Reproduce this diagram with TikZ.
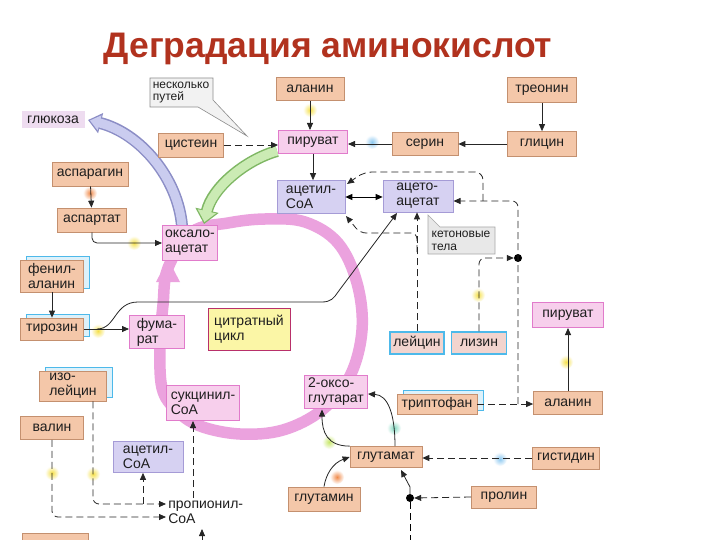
\documentclass[tikz,border=0pt]{standalone}
\usepackage{fontspec}
\setmainfont{Liberation Sans}
\usetikzlibrary{arrows.meta,shadows,backgrounds,calc}
\definecolor{aafill}{HTML}{F4C7A9}
\definecolor{aadraw}{HTML}{C4906F}
\definecolor{pkfill}{HTML}{F7CFEC}
\definecolor{pkdraw}{HTML}{E17BCB}
\definecolor{lvfill}{HTML}{D6D1F2}
\definecolor{lvdraw}{HTML}{A59BD6}
\definecolor{cycfill}{HTML}{FBF6A6}
\definecolor{cycdraw}{HTML}{B8306A}
\definecolor{shfill}{HTML}{DDF1FA}
\definecolor{shdraw}{HTML}{4DB9EA}
\definecolor{lbfill}{HTML}{F2D4CE}
\definecolor{ringcol}{HTML}{EBA2DE}
\definecolor{gfill}{HTML}{CBEBB4}
\definecolor{gdraw}{HTML}{7FB764}
\definecolor{lfill}{HTML}{CACCEF}
\definecolor{ldraw}{HTML}{8C8EC6}
\definecolor{titlecol}{HTML}{B1321E}
\definecolor{txt}{HTML}{1E1E1E}
\definecolor{glcfill}{HTML}{EEDCF0}
\definecolor{callfill}{HTML}{E8E8E8}
\definecolor{calldraw}{HTML}{A8A8A8}
\definecolor{glowY}{HTML}{F5E04A}
\definecolor{glowO}{HTML}{F08A4A}
\definecolor{glowB}{HTML}{8CC8F0}
\definecolor{glowG}{HTML}{C8E86A}
\definecolor{glowT}{HTML}{80D8C0}
\newcommand{\bx}{\fontsize{14}{15}\selectfont}
\newcommand{\smx}{\fontsize{12}{12.5}\selectfont}
\begin{document}
\begin{tikzpicture}[x=1pt,y=-1pt,
  box/.style={inner sep=0pt, align=left, font=\bx, text=txt, line width=0.7pt},
  aa/.style={box, fill=aafill, draw=aadraw},
  pk/.style={box, fill=pkfill, draw=pkdraw, line width=1pt},
  lv/.style={box, fill=lvfill, draw=lvdraw},
  ks/.style={aa, copy shadow={shadow xshift=6pt, shadow yshift=4pt, fill=shfill, draw=shdraw, line width=0.9pt}},
  lb/.style={box, fill=lbfill, draw=shdraw, line width=1.2pt},
  cyc/.style={box, fill=cycfill, draw=cycdraw, line width=1pt},
  sz/.style n args={2}{minimum width=#1pt, minimum height=#2pt},
  dotn/.style={circle, fill=black, inner sep=0pt, minimum size=8pt},
  arr/.style={-{Triangle[length=7pt,width=6pt]}, line width=0.8pt, draw=black!85},
  dsh/.style={arr, dash pattern=on 7pt off 4pt},
  glow/.style={inner color=#1, outer color=white}
]
\path[use as bounding box] (0,0) rectangle (720,540);

% ---------- title
\node[font=\fontsize{35.5}{38}\selectfont\bfseries, text=titlecol, anchor=base] (title) at (328,58) {Деградация аминокислот};

% ---------- nodes
\node[aa, sz={68}{23}] (alaT) at (310,89) {аланин};
\node[aa, sz={69}{25}] (thr) at (542,90) {треонин};
\node[aa, sz={65}{24}] (cys) at (191,145) {цистеин};
\node[pk, sz={69}{23}] (pyrT) at (313,142) {пируват};
\node[aa, sz={66}{23}] (ser) at (425,144) {серин};
\node[aa, sz={69}{25}] (gly) at (542,144) {глицин};
\node[box, fill=glcfill, sz={63}{17}] (glc) at (53,120) {глюкоза};
\node[aa, sz={76}{24}] (asn) at (90,174) {аспарагин};
\node[lv, sz={68}{33}] (acT) at (311,197) {ацетил-\\CoA};
\node[lv, sz={70}{32}] (acac) at (418,196) {ацето-\\ацетат};
\node[aa, sz={69}{24}] (asp) at (92,220) {аспартат};
\node[pk, sz={55}{35}] (oaa) at (190,243) {оксало-\\ацетат};
\node[ks, sz={63}{32}] (phe) at (52,276) {фенил-\\аланин};
\node[ks, sz={63}{22}] (tyr) at (52,329) {тирозин};
\node[pk, sz={55}{33}] (fum) at (157,332) {фума-\\рат};
\node[cyc, sz={82}{42}] (cit) at (249,329) {цитратный\\цикл};
\node[pk, sz={71}{25}] (pyrR) at (568,315) {пируват};
\node[lb, sz={54}{22}] (leu) at (417,343) {лейцин};
\node[lb, sz={55}{22}] (lys) at (479,343) {лизин};
\node[ks, sz={67}{30}] (ile) at (73,386) {изо-\\лейцин};
\node[pk, sz={73}{35}] (suc) at (203,403) {сукцинил-\\CoA};
\node[pk, sz={63}{33}] (oxg) at (336,392) {2-оксо-\\глутарат};
\node[ks, sz={80}{20}] (trp) at (437,404) {триптофан};
\node[aa, sz={69}{23}] (alaR) at (568,403) {аланин};
\node[aa, sz={63}{23}] (val) at (52,428) {валин};
\node[lv, sz={70}{31}] (acB) at (148,457) {ацетил-\\CoA};
\node[aa, sz={72}{21}] (glu) at (386,457) {глутамат};
\node[aa, sz={67}{22}] (his) at (566,458) {гистидин};
\node[aa, sz={72}{24}] (gln) at (324,499) {глутамин};
\node[aa, sz={65}{22}] (pro) at (504,497) {пролин};
\node[box, anchor=west] (prop) at (168,512) {пропионил-\\CoA};
\node[aa, sz={66}{24}] (cut) at (55,545) {};

% callouts
\draw[fill=white!95!black, draw=black!45, line width=0.6pt]
  (150,78) -- (213,78) -- (213,100) -- (247,136) -- (198,107) -- (150,107) -- cycle;
\node[font=\smx, align=left, text=txt] (paths) at (181,92.5) {несколько\\путей};
\draw[fill=callfill, draw=calldraw, line width=0.6pt]
  (428,215) -- (440,227) -- (495,227) -- (495,254) -- (428,254) -- cycle;
\node[font=\smx, align=left, text=txt] (keto) at (461,241) {кетоновые\\тела};

\node[dotn] (dot1) at (518,258) {};
\node[dotn] (dot2) at (410,498) {};

% ---------- background: glows, ring, broad arrows
\begin{scope}[on background layer]
\fill[white] (0,0) rectangle (720,540);
\foreach \x/\y/\c in {310/110/glowY, 372/142/glowB, 90/193/glowO, 134/243/glowY,
   98/331/glowY, 478/295/glowY, 566/362/glowY, 52/473/glowY, 93/474/glowY,
   337/477/glowO, 329/442/glowG, 394/428/glowT, 500/459/glowB}
  \shade[glow=\c] (\x,\y) circle[radius=7];
\draw[ringcol, line width=11.5pt] plot[smooth cycle, tension=0.6] coordinates {
  (192,232) (228,223) (265,219) (305,222) (338,243) (357,283) (362,330)
  (350,376) (322,410) (283,430) (240,434) (200,426) (176,410) (162,388)
  (160,345) (163,305) (168,268)};
\fill[ringcol] (156,282) -- (180,282) -- (168,259) -- cycle;
% green arrow pyruvate -> oxaloacetate
\draw[gdraw, line width=12pt, -{Triangle[width=23pt,length=14pt]}]
  (277,151) .. controls (245,160) and (212,188) .. (204,224);
\draw[gfill, line width=9pt, shorten >=2pt, -{Triangle[width=18pt,length=11pt]}]
  (277,151) .. controls (245,160) and (212,188) .. (204,224);
% lavender arrow oxaloacetate -> glucose
\draw[ldraw, line width=12pt, -{Triangle[width=20pt,length=13pt]}]
  (182,226) .. controls (178,178) and (140,133) .. (88,120);
\draw[lfill, line width=9pt, shorten >=2pt, -{Triangle[width=15pt,length=10pt]}]
  (182,226) .. controls (178,178) and (140,133) .. (88,120);
\end{scope}

% ---------- coordinates for free ends
\coordinate (tyrJ) at (97,329);
\coordinate (acacIn) at (397,213);
\coordinate (leuJ) at (417,252);
\coordinate (acTse) at (346,216);
\coordinate (acTne) at (347,184);
\coordinate (trpJ) at (518,404);
\coordinate (acacE) at (453.5,201);
\coordinate (loopJ) at (483,201);
\coordinate (gluIn) at (401,470);
\coordinate (bot2) at (410,545);
\coordinate (oxgB) at (322,409.5);
\coordinate (oxgR) at (368,394);
\coordinate (propA) at (166,504);
\coordinate (propB) at (166,517);
\coordinate (ileJ) at (143,504);
\coordinate (propT) at (193,498);
\coordinate (botP) at (202,548);
\coordinate (propBot) at (202,529);

% ---------- connectors
\draw[arr] (alaT.south) -- (alaT.south |- pyrT.north);
\draw[dsh] (cys.east) -- (cys.east -| pyrT.west);
\draw[arr] (ser.west) -- (ser.west -| pyrT.east);
\draw[arr] (gly.west) -- (gly.west -| ser.east);
\draw[arr] (thr.south) -- (gly.north);
\draw[arr] (pyrT.south) -- (pyrT.south |- acT.north);
\draw[{Triangle[length=7pt,width=6pt]}-{Triangle[length=7pt,width=6pt]}, line width=0.8pt]
  (acT.east) -- (acT.east -| acac.west);
\draw[arr] (asn) -- (asp);
\draw[arr, rounded corners=5pt] (asp.south) |- (oaa.west);
\draw[arr] (phe) -- (tyr);
\draw[arr] (tyr.east) -- (tyr.east -| fum.west);
\draw[arr] (tyrJ) .. controls (116,329) and (114,302) .. (138,302) -- (322,302)
  .. controls (331,302) and (334,298) .. (338,292) -- (acacIn);
% ketogenic dashed paths
\draw[dsh] (leu.north) -- (leu.north |- acac.south);
\draw[dsh, rounded corners=6pt] (leuJ) |- (360,233) -- (acTse);
\draw[dsh, rounded corners=6pt] (lys.north) |- (dot1.west);
\draw[dsh, rounded corners=6pt] (trpJ) |- (acacE);
\draw[dsh, rounded corners=8pt] (loopJ) -- (483,172) -- (364,172) -- (acTne);
\draw[dsh] (trp.east) -- (trp.east -| alaR.west);
\draw[arr] (alaR.north) -- (pyrR.south);
% glutamate group
\draw[dsh] (his.west) -- (his.west -| glu.east);
\draw[dsh] (pro.west) -- (dot2.east);
\draw[arr] (dot2.north) -- (410,487) -- (gluIn);
\draw[dash pattern=on 7pt off 4pt, line width=0.8pt] (dot2.south) -- (bot2);
\draw[arr] (gln.north) .. controls (326,474) and (333,463) .. (glu.west);
\draw[arr] (glu.north west) .. controls (327,446) and (322,432) .. (oxgB);
\draw[arr] ($(glu.north)+(9,0)$) .. controls (395,414) and (388,395) .. (oxgR);
% branched chain
\draw[dsh, rounded corners=6pt] ($(ile.south)+(20,0)$) |- (propA);
\draw[dsh, rounded corners=6pt] (val.south) |- (propB);
\draw[dsh] (ileJ) -- (ileJ |- acB.south);
\draw[dsh] (propT) -- (propT |- suc.south);
\draw[arr] (botP) -- (propBot);
\end{tikzpicture}
\end{document}
